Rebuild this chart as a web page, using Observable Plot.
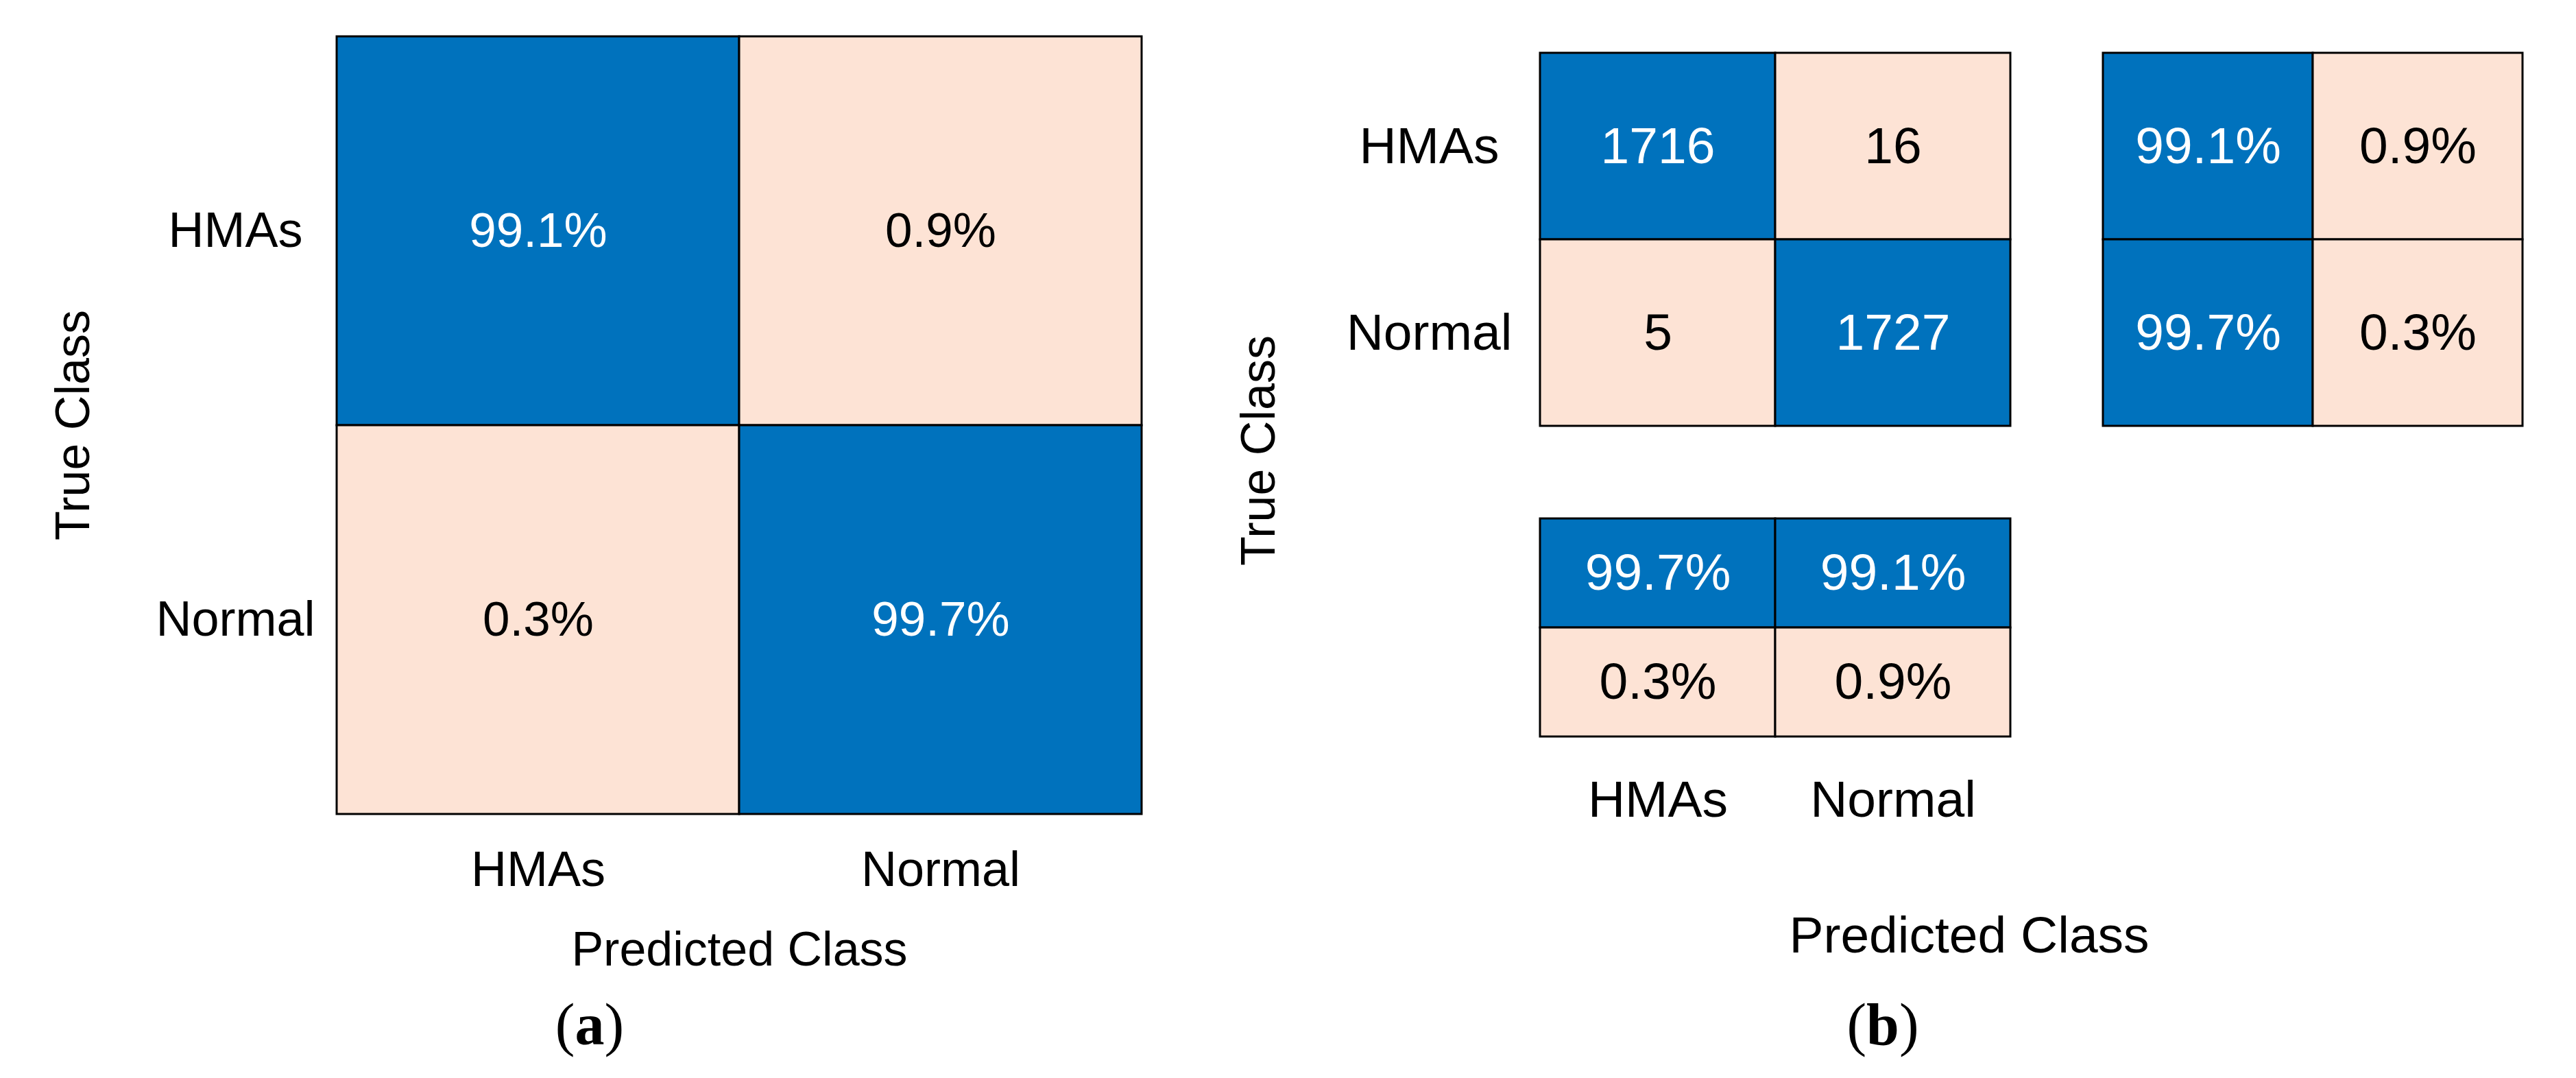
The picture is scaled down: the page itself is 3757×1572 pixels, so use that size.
<!DOCTYPE html>
<html>
<head>
<meta charset="utf-8">
<script src="https://cdn.jsdelivr.net/npm/d3@7"></script>
<script src="https://cdn.jsdelivr.net/npm/@observablehq/plot@0.6"></script>
<style>
  html, body { margin: 0; padding: 0; background: #fff; }
  #page { position: relative; width: 3757px; height: 1572px; overflow: hidden; background: #fff; }
  #page > svg, #page > div { position: absolute; }
  .cap { font-family: "Liberation Serif", "Times New Roman", serif; font-size: 86px; color: #000; white-space: nowrap; line-height: 1; transform: translateX(-50%); }
</style>
</head>
<body>
<div id="page"></div>
<script>
// ---------- data ----------
const classes = ["HMAs", "Normal"];
// (a) row-normalized percentages: rows = true class, columns = predicted class
const pctA = [[99.1, 0.9], [0.3, 99.7]];
// (b) confusion counts: rows = true class, columns = predicted class
const countsB = [[1716, 16], [5, 1727]];
// (b) row summary (per true class): correct %, incorrect %
const rowSummary = [[99.1, 0.9], [99.7, 0.3]];
// (b) column summary (per predicted class): row 1 = correct %, row 2 = incorrect %
const colSummary = [[99.7, 99.1], [0.3, 0.9]];
const summaryKinds = ["correct", "incorrect"];

// ---------- styling ----------
const blue = "#0072BD", salmon = "#FDE3D5";
const font = '"Liberation Sans", Arial, Helvetica, sans-serif';
const color = {domain: ["diag", "off"], range: [blue, salmon]};
const baseStyle = {fontFamily: font, fontSize: "74px", color: "black", background: "transparent", overflow: "visible"};
const pct = v => v.toFixed(1) + "%";

// ---------- tables ----------
const cellsA = classes.flatMap((t, i) => classes.map((p, j) => ({
  trueClass: t, pred: p, kind: i === j ? "diag" : "off", label: pct(pctA[i][j])
})));
const cellsCounts = classes.flatMap((t, i) => classes.map((p, j) => ({
  trueClass: t, pred: p, kind: i === j ? "diag" : "off", label: String(countsB[i][j])
})));
const cellsRow = classes.flatMap((t, i) => summaryKinds.map((k, j) => ({
  trueClass: t, summary: k, kind: j === 0 ? "diag" : "off", label: pct(rowSummary[i][j])
})));
const cellsCol = summaryKinds.flatMap((k, i) => classes.map((p, j) => ({
  summary: k, pred: p, kind: i === 0 ? "diag" : "off", label: pct(colSummary[i][j])
})));

function cellMarks(data, x, y, fontSize) {
  return [
    Plot.cell(data, {x, y, fill: "kind", stroke: "black", strokeWidth: 3, inset: 0}),
    Plot.text(data.filter(d => d.kind === "diag"), {x, y, text: "label", fill: "white", fontSize}),
    Plot.text(data.filter(d => d.kind !== "diag"), {x, y, text: "label", fill: "black", fontSize})
  ];
}

const page = document.getElementById("page");
function place(el, left, top) {
  el.style.left = left + "px";
  el.style.top = top + "px";
  page.appendChild(el);
}

// ---------- (a) ----------
const plotA = Plot.plot({
  width: 1700, height: 1572,
  marginLeft: 491, marginRight: 35, marginTop: 52, marginBottom: 385,
  style: baseStyle,
  x: {domain: classes, padding: 0},
  y: {domain: classes, padding: 0},
  color,
  marks: [
    ...cellMarks(cellsA, "pred", "trueClass", 71),
    Plot.axisY({tickSize: 0, tickPadding: 148, textAnchor: "middle", label: null, fontSize: 72}),
    Plot.axisX({tickSize: 0, tickPadding: 53, label: null, fontSize: 72}),
    Plot.text(["True Class"], {text: d => d, frameAnchor: "left", rotate: -90, dx: -384, lineAnchor: "middle", textAnchor: "middle", fontSize: 70}),
    Plot.text(["Predicted Class"], {text: d => d, frameAnchor: "bottom", dy: 220, lineAnchor: "bottom", textAnchor: "middle", fontSize: 70})
  ]
});
place(plotA, 0, 0);

// ---------- (b) counts ----------
const plotB1 = Plot.plot({
  width: 1252, height: 1572,
  marginLeft: 545, marginRight: 20, marginTop: 76, marginBottom: 951,
  style: baseStyle,
  x: {domain: classes, padding: 0, axis: null},
  y: {domain: classes, padding: 0},
  color,
  marks: [
    ...cellMarks(cellsCounts, "pred", "trueClass", 75),
    Plot.axisY({tickSize: 0, tickPadding: 161, textAnchor: "middle", label: null, fontSize: 75}),
    Plot.text(["True Class"], {text: d => d, frameAnchor: "left", rotate: -90, dx: -409, dy: 308, lineAnchor: "middle", textAnchor: "middle", fontSize: 70})
  ]
});
place(plotB1, 1700, 0);

// ---------- (b) row summary ----------
const plotB2 = Plot.plot({
  width: 757, height: 641,
  marginLeft: 67, marginRight: 78, marginTop: 76, marginBottom: 20,
  style: baseStyle,
  x: {domain: summaryKinds, padding: 0, axis: null},
  y: {domain: classes, padding: 0, axis: null},
  color,
  marks: cellMarks(cellsRow, "summary", "trueClass", 75)
});
place(plotB2, 3000, 0);

// ---------- (b) column summary ----------
const plotB3 = Plot.plot({
  width: 1252, height: 872,
  marginLeft: 545, marginRight: 20, marginTop: 56, marginBottom: 498,
  style: baseStyle,
  x: {domain: classes, padding: 0},
  y: {domain: summaryKinds, padding: 0, axis: null},
  color,
  marks: [
    ...cellMarks(cellsCol, "pred", "summary", 75),
    Plot.axisX({tickSize: 0, tickPadding: 63, label: null, fontSize: 75}),
    Plot.text(["Predicted Class"], {text: d => d, frameAnchor: "bottom", dx: 283, dy: 314, lineAnchor: "bottom", textAnchor: "middle", fontSize: 75})
  ]
});
place(plotB3, 1700, 700);

// ---------- captions ----------
function caption(letter, cx) {
  const div = document.createElement("div");
  div.className = "cap";
  div.innerHTML = "(<b>" + letter + "</b>)";
  place(div, cx, 1451);
}
caption("a", 860);
caption("b", 2746);
</script>
</body>
</html>
